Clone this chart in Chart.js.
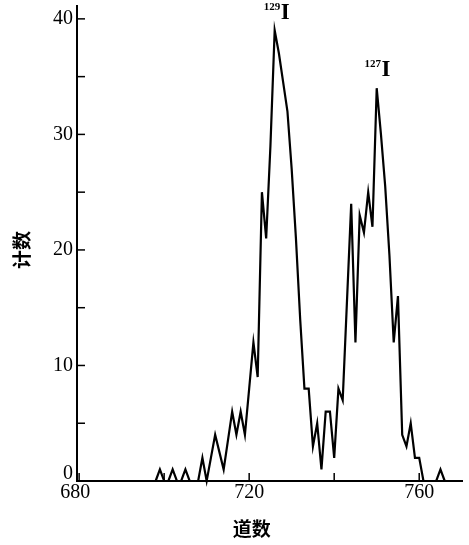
<!DOCTYPE html>
<html>
<head>
<meta charset="utf-8">
<script src="https://cdn.jsdelivr.net/npm/chart.js@4/dist/chart.umd.min.js"></script>
<style>
  html, body { margin: 0; padding: 0; background: #fff; }
  canvas { display: block; }
</style>
</head>
<body>
<canvas id="c" width="469" height="545"></canvas>
<script>
// ---- data ----
const channels = [698,699,700,701,702,703,704,705,706,707,708,709,710,711,712,713,714,715,716,717,718,719,720,
  721,722,723,724,725,726,727,728,729,730,731,732,733,734,735,736,737,738,739,740,741,742,743,744,745,746,747,748,749,750,
  751,752,753,754,755,756,757,758,759,760,761,762,763,764,765,766];
const counts = [0,1,0,0,1,0,0,1,0,0,0,2,0,2,4,2.5,1,3.5,6,4,6,4,8,
  12,9,25,21,29,39,37,34.5,32,27,21,14,8,8,3,5,1,6,6,2,8,7,15.5,24,12,23,21.5,25,22,34,
  30,25.5,19.5,12,16,4,3,5,2,2,0,0,0,0,1,0];

const xTicks = [680, 700, 720, 740, 760];
const xTickLabels = ['680', '', '720', '', '760'];
const yTicks = [0, 5, 10, 15, 20, 25, 30, 35, 40];
const yTickLabels = ['0', '', '10', '', '20', '', '30', '', '40'];

const xTitle = '道数';
const yTitle = '计数';

const peakLabels = [
  { mass: '129', elem: 'I', x: 728.5, y: 40.5 },
  { mass: '127', elem: 'I', x: 752.2, y: 35.6 }
];

// ---- drawing ----
const frame = {
  id: 'frame',
  afterDatasetsDraw(chart) {
    const { ctx, chartArea: a, scales: { x, y } } = chart;
    ctx.save();
    ctx.strokeStyle = '#000';
    ctx.fillStyle = '#000';
    ctx.lineWidth = 2;
    ctx.beginPath();
    ctx.moveTo(a.left, a.top);
    ctx.lineTo(a.left, a.bottom);
    ctx.lineTo(a.right, a.bottom);
    ctx.stroke();

    ctx.lineWidth = 1.5;
    yTicks.forEach(v => {
      const py = y.getPixelForValue(v);
      ctx.beginPath();
      ctx.moveTo(a.left, py);
      ctx.lineTo(a.left + 8, py);
      ctx.stroke();
    });
    xTicks.forEach(v => {
      const px = x.getPixelForValue(v);
      ctx.beginPath();
      ctx.moveTo(px, a.bottom);
      ctx.lineTo(px, a.bottom - 8);
      ctx.stroke();
    });

    ctx.font = '20px "Liberation Serif", serif';
    ctx.textAlign = 'right';
    ctx.textBaseline = 'middle';
    yTicks.forEach((v, i) => {
      if (!yTickLabels[i]) return;
      let py = y.getPixelForValue(v);
      if (v === 0) py -= 7;
      ctx.fillText(yTickLabels[i], a.left - 4, py);
    });
    ctx.textAlign = 'center';
    ctx.textBaseline = 'top';
    xTicks.forEach((v, i) => {
      if (!xTickLabels[i]) return;
      let px = x.getPixelForValue(v);
      if (i === 0) px -= 4;
      ctx.fillText(xTickLabels[i], px, a.bottom + 2);
    });

    // axis titles
    ctx.font = 'bold 19px "Noto Sans CJK SC", sans-serif';
    ctx.textAlign = 'center';
    ctx.textBaseline = 'middle';
    ctx.fillText(xTitle, x.getPixelForValue(720.6), 529);
    ctx.save();
    ctx.translate(22, 250);
    ctx.rotate(-Math.PI / 2);
    ctx.fillText(yTitle, 0, 0);
    ctx.restore();

    // peak labels
    peakLabels.forEach(p => {
      const px = x.getPixelForValue(p.x);
      const py = y.getPixelForValue(p.y);
      ctx.font = 'bold 23px "Liberation Serif", serif';
      ctx.textAlign = 'center';
      ctx.textBaseline = 'middle';
      ctx.fillText(p.elem, px, py);
      ctx.font = 'bold 11px "Liberation Serif", serif';
      ctx.textAlign = 'right';
      ctx.textBaseline = 'middle';
      ctx.fillText(p.mass, px - 5, py - 6);
    });
    ctx.restore();
  }
};

new Chart(document.getElementById('c'), {
  type: 'line',
  data: {
    datasets: [{
      data: channels.map((c, i) => ({ x: c, y: counts[i] })),
      borderColor: '#000',
      borderWidth: 2.2,
      pointRadius: 0,
      tension: 0,
      fill: false,
      clip: false
    }]
  },
  options: {
    responsive: false,
    animation: false,
    events: [],
    layout: { padding: { left: 77, right: 6, top: 5, bottom: 64 } },
    plugins: { legend: { display: false }, tooltip: { enabled: false } },
    scales: {
      x: { type: 'linear', display: false, min: 679.5, max: 770.3 },
      y: { type: 'linear', display: false, min: 0, max: 41.2 }
    }
  },
  plugins: [frame]
});
</script>
</body>
</html>
